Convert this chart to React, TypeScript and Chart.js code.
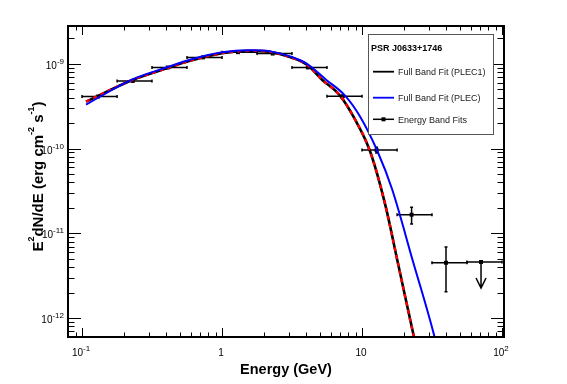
import React, { useEffect, useRef } from 'react';
import { Chart, registerables } from 'chart.js';

Chart.register(...registerables);

// ---- data ----
const plec1Energy = [0.1068, 0.2313, 0.4047, 0.5905, 1.0, 1.585, 2.203, 3.06, 4.046, 5.18, 6.96, 8.91, 11.41, 14.6, 18.08, 23.33, 24.71];
const plec1Flux = [3.58e-10, 6.49e-10, 8.86e-10, 1.084e-9, 1.335e-9, 1.42e-9, 1.382e-9, 1.198e-9, 9.73e-10, 6.49e-10, 4.22e-10, 2.207e-10, 9.3e-11, 2.227e-11, 4.41e-12, 6.32e-13, 4.22e-13];

const plecEnergy = [0.1068, 0.2313, 0.4047, 0.5905, 1.0, 1.585, 2.203, 3.06, 4.046, 5.53, 7.56, 9.676, 12.8, 16.38, 23.13, 32.68, 34.33];
const plecFlux = [3.31e-10, 6.58e-10, 9.1e-10, 1.114e-9, 1.364e-9, 1.44e-9, 1.401e-9, 1.224e-9, 1.0e-9, 6.49e-10, 4.22e-10, 2.393e-10, 9.56e-11, 3.337e-11, 4.655e-12, 6.32e-13, 4.45e-13];

const bandEnergy = [0.13, 0.23, 0.41, 0.73, 1.3, 2.3, 4.1, 7.3, 12.7, 22.6, 39.8, 70.8];
const bandLow = [0.1, 0.178, 0.316, 0.562, 1.0, 1.78, 3.16, 5.62, 10, 17.8, 31.6, 56.2];
const bandHigh = [0.178, 0.316, 0.562, 1.0, 1.78, 3.16, 5.62, 10, 17.8, 31.6, 56.2, 100];
const bandFlux = [4.1e-10, 6.27e-10, 9.05e-10, 1.19e-9, 1.37e-9, 1.32e-9, 9.05e-10, 4.15e-10, 9.6e-11, 1.66e-11, 4.5e-12, 4.6e-12];
const bandFluxLow = [4.0e-10, 6.15e-10, 8.9e-10, 1.17e-9, 1.35e-9, 1.3e-9, 8.85e-10, 4.0e-10, 8.9e-11, 1.29e-11, 2.05e-12, 4.6e-12];
const bandFluxHigh = [4.2e-10, 6.4e-10, 9.2e-10, 1.21e-9, 1.39e-9, 1.34e-9, 9.25e-10, 4.3e-10, 1.04e-10, 2.03e-11, 6.9e-12, 4.6e-12];
const bandUpperLimit = [false, false, false, false, false, false, false, false, false, false, false, true];

const xRange = [0.0794, 103.3];
const yRange = [6.31e-13, 2.79e-9];
const xTickExps = [-1, 0, 1, 2];
const yTickExps = [-12, -11, -10, -9];
const xTitle = 'Energy (GeV)';
const legendTitle = 'PSR J0633+1746';
const legendLabels = ['Full Band Fit (PLEC1)', 'Full Band Fit (PLEC)', 'Energy Band Fits'];

const FONT = "'Liberation Sans', Arial, Helvetica, sans-serif";

function xLabel(e: number): [string, string] {
  if (e === 0) return ['1', ''];
  if (e === 1) return ['10', ''];
  return ['10', String(e)];
}

function drawPower(ctx: CanvasRenderingContext2D, base: string, exp: string, x: number, y: number, align: string, raise: number) {
  ctx.font = `10px ${FONT}`;
  const wb = ctx.measureText(base).width;
  ctx.font = `8px ${FONT}`;
  const we = exp ? ctx.measureText(exp).width : 0;
  const total = wb + we;
  const start = align === 'center' ? x - total / 2 : x - total;
  ctx.textAlign = 'left';
  ctx.textBaseline = 'alphabetic';
  ctx.font = `10px ${FONT}`;
  ctx.fillText(base, start, y);
  if (exp) {
    ctx.font = `8px ${FONT}`;
    ctx.fillText(exp, start + wb, y - raise);
  }
}

const rootPlugin = {
  id: 'rootStyle',
  beforeDatasetsDraw(chart: any) {
    const ctx: CanvasRenderingContext2D = chart.ctx;
    const xs = chart.scales.x;
    const ys = chart.scales.y;
    ctx.save();
    ctx.strokeStyle = '#000';
    ctx.lineWidth = 1.5;
    for (let i = 0; i < bandEnergy.length; i++) {
      const px = xs.getPixelForValue(bandEnergy[i]);
      const py = ys.getPixelForValue(bandFlux[i]);
      const x0 = xs.getPixelForValue(bandLow[i]);
      const x1 = xs.getPixelForValue(bandHigh[i]);
      ctx.beginPath();
      ctx.moveTo(x0, py); ctx.lineTo(x1, py);
      ctx.moveTo(x0, py - 1.5); ctx.lineTo(x0, py + 1.5);
      ctx.moveTo(x1, py - 1.5); ctx.lineTo(x1, py + 1.5);
      ctx.stroke();
      if (bandUpperLimit[i]) {
        const yEnd = py + 26;
        ctx.beginPath();
        ctx.moveTo(px, py); ctx.lineTo(px, yEnd);
        ctx.moveTo(px - 5, yEnd - 10); ctx.lineTo(px, yEnd); ctx.lineTo(px + 5, yEnd - 10);
        ctx.stroke();
      } else {
        const y0 = ys.getPixelForValue(bandFluxHigh[i]);
        const y1 = ys.getPixelForValue(bandFluxLow[i]);
        if (y1 - y0 > 4) {
          ctx.beginPath();
          ctx.moveTo(px, y0); ctx.lineTo(px, y1);
          ctx.moveTo(px - 1.5, y0); ctx.lineTo(px + 1.5, y0);
          ctx.moveTo(px - 1.5, y1); ctx.lineTo(px + 1.5, y1);
          ctx.stroke();
        }
      }
    }
    ctx.restore();
  },
  afterDraw(chart: any) {
    const ctx: CanvasRenderingContext2D = chart.ctx;
    const xs = chart.scales.x;
    const ys = chart.scales.y;
    const a = chart.chartArea;
    ctx.save();
    ctx.fillStyle = '#000';
    ctx.strokeStyle = '#000';

    // ticks
    ctx.lineWidth = 1;
    ctx.beginPath();
    for (let d = -2; d <= 2; d++) {
      for (let m = 1; m <= 9; m++) {
        const v = m * Math.pow(10, d);
        if (v >= xRange[0] && v <= xRange[1]) {
          const px = Math.round(xs.getPixelForValue(v)) + 0.5;
          const len = m === 1 ? 9 : 4.5;
          ctx.moveTo(px, a.bottom); ctx.lineTo(px, a.bottom - len);
          ctx.moveTo(px, a.top); ctx.lineTo(px, a.top + len);
        }
      }
    }
    for (let d = -13; d <= -8; d++) {
      for (let m = 1; m <= 9; m++) {
        const v = m * Math.pow(10, d);
        if (v >= yRange[0] && v <= yRange[1]) {
          const py = Math.round(ys.getPixelForValue(v)) + 0.5;
          const len = m === 1 ? 13 : 6.5;
          ctx.moveTo(a.left, py); ctx.lineTo(a.left + len, py);
          ctx.moveTo(a.right, py); ctx.lineTo(a.right - len, py);
        }
      }
    }
    ctx.stroke();

    // frame
    ctx.lineWidth = 2;
    ctx.strokeRect(a.left, a.top, a.right - a.left, a.bottom - a.top);

    // tick labels
    for (const e of xTickExps) {
      const [b, ex] = xLabel(e);
      drawPower(ctx, b, ex, xs.getPixelForValue(Math.pow(10, e)) - 1, a.bottom + 19, 'center', 5.5);
    }
    for (const e of yTickExps) {
      const py = ys.getPixelForValue(Math.pow(10, e));
      drawPower(ctx, '10', String(e), a.left - 4, py + 5, 'right', 5);
    }

    // x title
    ctx.font = `bold 14.5px ${FONT}`;
    ctx.textAlign = 'center';
    ctx.textBaseline = 'alphabetic';
    ctx.fillText(xTitle, (a.left + a.right) / 2, 374);

    // y title with superscripts
    const parts: [string, boolean][] = [['E', false], ['2', true], ['dN/dE (erg cm', false], ['-2', true], [' s', false], ['-1', true], [')', false]];
    const mainF = `bold 15px ${FONT}`;
    const supF = `bold 9px ${FONT}`;
    let total = 0;
    for (const [t, s] of parts) { ctx.font = s ? supF : mainF; total += ctx.measureText(t).width; }
    ctx.translate(42.5, (a.top + a.bottom) / 2 - 5);
    ctx.rotate(-Math.PI / 2);
    ctx.textAlign = 'left';
    let cx = -total / 2;
    for (const [t, s] of parts) {
      ctx.font = s ? supF : mainF;
      ctx.fillText(t, cx, s ? -8.5 : 0);
      cx += ctx.measureText(t).width;
    }
    ctx.setTransform(1, 0, 0, 1, 0, 0);

    // legend box
    const lx = 368, ly = 34, lw = 125, lh = 100;
    ctx.fillStyle = '#fff';
    ctx.fillRect(lx, ly, lw, lh);
    ctx.strokeStyle = '#555';
    ctx.lineWidth = 1;
    ctx.strokeRect(lx + 0.5, ly + 0.5, lw, lh);
    ctx.fillStyle = '#000';
    ctx.font = `bold 9px ${FONT}`;
    ctx.textAlign = 'left';
    ctx.fillText(legendTitle, lx + 3, 50.5);
    const rows = [71.7, 97.7, 119.3];
    const colors = ['#000', '#0000ff', '#000'];
    ctx.font = `9px ${FONT}`;
    for (let i = 0; i < 3; i++) {
      const y = rows[i];
      ctx.strokeStyle = colors[i];
      ctx.lineWidth = i === 2 ? 1.5 : 1.8;
      ctx.beginPath();
      ctx.moveTo(373, y); ctx.lineTo(394, y);
      ctx.stroke();
      if (i === 2) {
        ctx.fillStyle = '#000';
        ctx.fillRect(381.5, y - 2, 4, 4);
      }
      ctx.fillStyle = '#1a1a1a';
      ctx.fillText(legendLabels[i], 398, y + 3.2);
    }
    ctx.restore();
  },
};

export default function App() {
  const ref = useRef<HTMLCanvasElement>(null);
  useEffect(() => {
    if (!ref.current) return;
    const pts = (xs: number[], ys: number[]) => xs.map((x, i) => ({ x, y: ys[i] }));
    const chart = new Chart(ref.current, {
      type: 'line',
      data: {
        datasets: [
          {
            label: 'PLEC',
            data: pts(plecEnergy, plecFlux),
            borderColor: '#0000ff',
            borderWidth: 2,
            pointRadius: 0,
            cubicInterpolationMode: 'monotone',
            order: 0,
          },
          {
            label: 'PLEC1 dashed',
            data: pts(plec1Energy, plec1Flux),
            borderColor: '#ff0000',
            borderWidth: 2.4,
            borderDash: [4, 4],
            pointRadius: 0,
            cubicInterpolationMode: 'monotone',
            order: 1,
          },
          {
            label: 'PLEC1',
            data: pts(plec1Energy, plec1Flux),
            borderColor: '#000000',
            borderWidth: 2.6,
            pointRadius: 0,
            cubicInterpolationMode: 'monotone',
            order: 2,
          },
          {
            label: 'Energy Band Fits',
            data: pts(bandEnergy, bandFlux),
            showLine: false,
            pointStyle: 'rect',
            pointRadius: 2.8,
            pointBackgroundColor: '#000',
            pointBorderColor: '#000',
            pointBorderWidth: 0,
            order: 3,
          },
        ],
      },
      options: {
        animation: false,
        responsive: false,
        devicePixelRatio: 1,
        layout: { padding: { left: 68, right: 63, top: 26, bottom: 47 } },
        scales: {
          x: { type: 'logarithmic', min: xRange[0], max: xRange[1], display: false },
          y: { type: 'logarithmic', min: yRange[0], max: yRange[1], display: false },
        },
        plugins: { legend: { display: false }, tooltip: { enabled: false } },
      } as any,
      plugins: [rootPlugin],
    });
    return () => chart.destroy();
  }, []);
  return (
    <canvas
      ref={ref}
      width={567}
      height={384}
      style={{ position: 'absolute', left: 0, top: 0, width: 567, height: 384, background: '#fff' }}
    />
  );
}
